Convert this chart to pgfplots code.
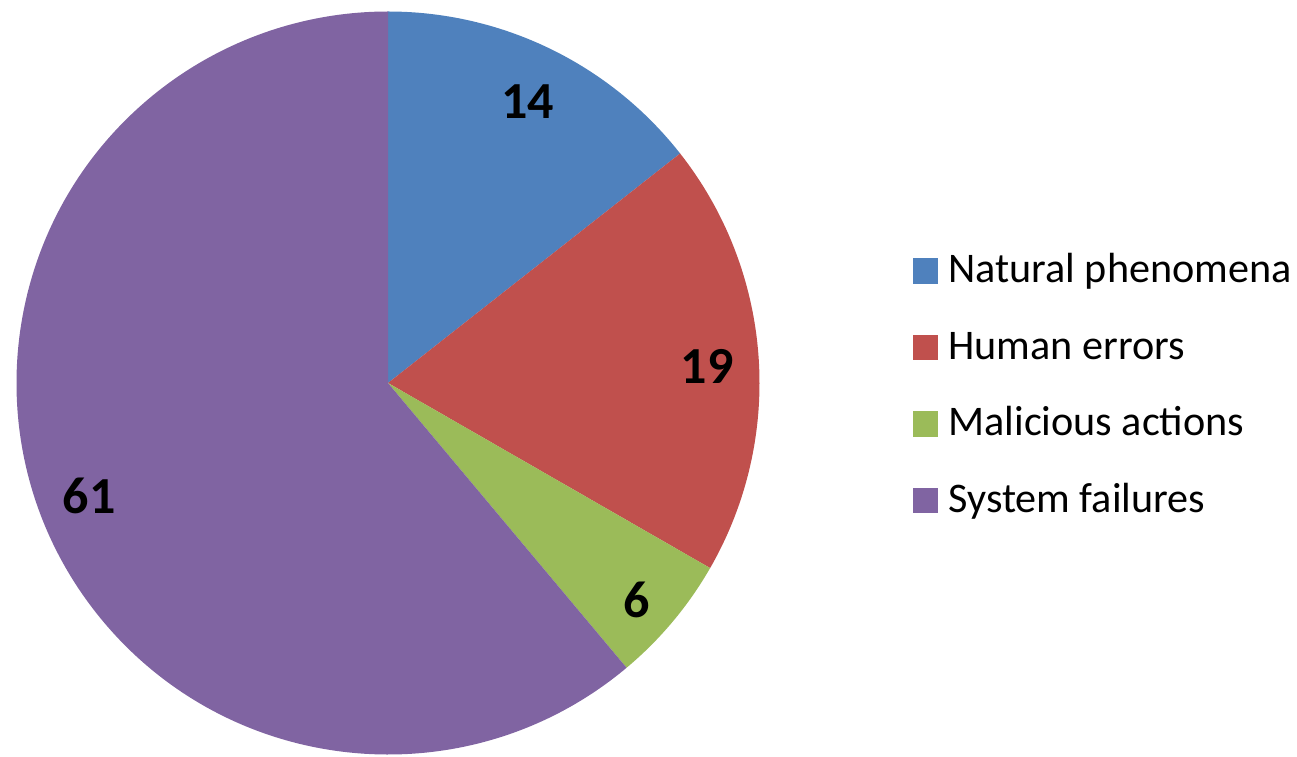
\documentclass[border=0pt]{standalone}
\usepackage{pgfplots}
\pgfplotsset{compat=1.18}
\usepackage{fontspec}
\setmainfont{Carlito}
\definecolor{cNat}{HTML}{4F81BD}
\definecolor{cHum}{HTML}{C0504D}
\definecolor{cMal}{HTML}{9BBB59}
\definecolor{cSys}{HTML}{8064A2}
% data (percent shares; labels show them rounded)
\def\vNat{14.4}
\def\vHum{18.9}
\def\vMal{5.6}
\def\vSys{61.1}
\begin{document}
\begin{tikzpicture}
\pgfmathsetmacro\aA{90}
\pgfmathsetmacro\aB{\aA-3.6*\vNat}
\pgfmathsetmacro\aC{\aB-3.6*\vHum}
\pgfmathsetmacro\aD{\aC-3.6*\vMal}
\begin{axis}[
  hide axis, scale only axis, clip=false,
  width=12.97cm, height=7.56cm,
  xmin=0, xmax=1297, ymin=0, ymax=756,
  legend cell align=left,
  legend image code/.code={\fill[#1] (0mm,-1.2mm) rectangle (2.4mm,1.2mm);},
  legend style={draw=none, fill=none, inner sep=0pt, outer sep=0pt,
    at={(axis cs:913,523.25)}, anchor=north west,
    font=\fontsize{12}{14}\selectfont,
    nodes={inner sep=0pt, text height=5.025mm, text depth=2.625mm},
    row sep=0pt,
    /tikz/every odd column/.append style={column sep=1.0mm}},
]
\path (axis cs:0,0) rectangle (axis cs:1297,756);
\def\R{3.715cm}
\begin{scope}[overlay]
\fill[cNat] (axis cs:388,373) -- ++(\aA:\R) arc[start angle=\aA, delta angle=-3.6*\vNat, radius=\R] -- cycle;
\fill[cHum] (axis cs:388,373) -- ++(\aB:\R) arc[start angle=\aB, delta angle=-3.6*\vHum, radius=\R] -- cycle;
\fill[cMal] (axis cs:388,373) -- ++(\aC:\R) arc[start angle=\aC, delta angle=-3.6*\vMal, radius=\R] -- cycle;
\fill[cSys] (axis cs:388,373) -- ++(\aD:\R) arc[start angle=\aD, delta angle=-3.6*\vSys, radius=\R] -- cycle;
\end{scope}
\begin{scope}[every node/.style={font=\fontsize{14.8}{16}\selectfont\bfseries, inner sep=0pt}]
\node at (axis cs:527.5,654.3) {14};
\node at (axis cs:707,390) {19};
\node at (axis cs:637,156) {6};
\node at (axis cs:89,260) {61};
\end{scope}
\addlegendimage{cNat}\addlegendentry{Natural phenomena}
\addlegendimage{cHum}\addlegendentry{Human errors}
\addlegendimage{cMal}\addlegendentry{Malicious actions}
\addlegendimage{cSys}\addlegendentry{System failures}
\end{axis}
\end{tikzpicture}
\end{document}
